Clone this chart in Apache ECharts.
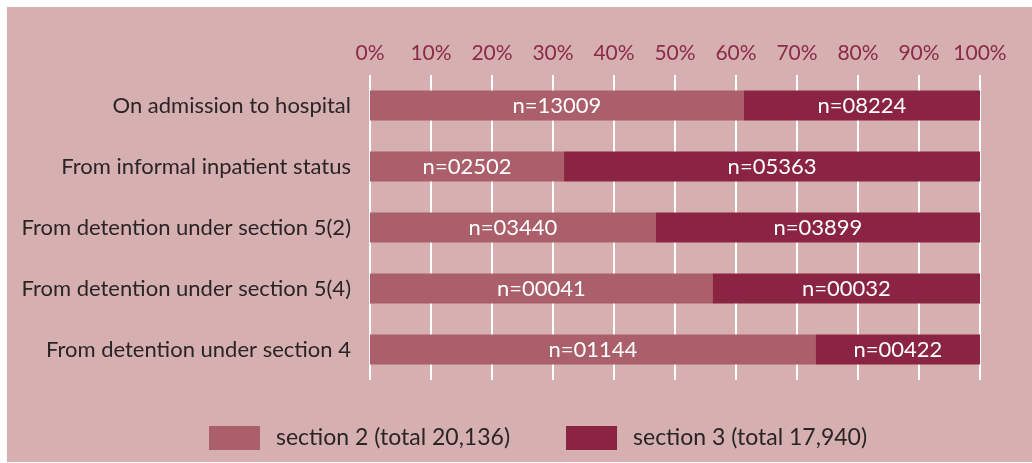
<!DOCTYPE html>
<html>
<head>
<meta charset="utf-8">
<script src="https://cdn.jsdelivr.net/npm/echarts@6/dist/echarts.min.js"></script>
<style>
  html, body { margin: 0; padding: 0; background: #ffffff; }
  #chart { position: absolute; left: 7px; top: 7px; width: 1025px; height: 455px; background: #d6afb1; }
</style>
</head>
<body>
<div id="chart"></div>
<script>
// Routes into detention, by section of the Act
const categories = [
  'On admission to hospital',
  'From informal inpatient status',
  'From detention under section 5(2)',
  'From detention under section 5(4)',
  'From detention under section 4'
];
const section2Counts = [13009, 2502, 3440, 41, 1144];
const section3Counts = [8224, 5363, 3899, 32, 422];
const seriesNames = ['section 2 (total 20,136)', 'section 3 (total 17,940)'];
const percentTicks = [0, 10, 20, 30, 40, 50, 60, 70, 80, 90, 100];

const FONT = 'Lato, "Open Sans", sans-serif';

// Share of each row's total, as a percentage
function share(counts, other) {
  return counts.map((v, i) => ({ value: 100 * v / (v + other[i]), count: v }));
}
const pad = n => 'n=' + String(n).padStart(5, '0');

const chart = echarts.init(document.getElementById('chart'));
chart.setOption({
  animation: false,
  textStyle: { fontFamily: FONT },
  grid: { left: 363, right: 52, top: 68, bottom: 82, containLabel: false },
  xAxis: {
    type: 'value',
    position: 'top',
    min: percentTicks[0],
    max: percentTicks[percentTicks.length - 1],
    interval: percentTicks[1] - percentTicks[0],
    axisLine: { show: false },
    axisTick: { show: false },
    axisLabel: { color: '#8b2a49', fontSize: 21, fontFamily: FONT, margin: 11, formatter: '{value}%' },
    splitLine: { show: true, lineStyle: { color: '#ffffff', width: 2 } }
  },
  yAxis: {
    type: 'category',
    inverse: true,
    data: categories,
    axisLine: { show: false },
    axisTick: { show: false },
    axisLabel: { color: '#2b2426', fontSize: 22, fontFamily: FONT, margin: 19 }
  },
  legend: {
    bottom: 12,
    left: 202,
    padding: 0,
    itemWidth: 51,
    itemHeight: 24,
    itemGap: 56,
    icon: 'rect',
    textStyle: { color: '#2b2426', fontSize: 23, fontFamily: FONT, padding: [0, 0, 0, 11] },
    data: seriesNames
  },
  series: [
    {
      name: seriesNames[0],
      type: 'bar',
      stack: 'total',
      barWidth: 30,
      itemStyle: { color: '#ab5f6a' },
      label: { show: true, position: 'inside', color: '#ffffff', fontSize: 22, fontFamily: FONT,
               formatter: p => pad(p.data.count) },
      data: share(section2Counts, section3Counts)
    },
    {
      name: seriesNames[1],
      type: 'bar',
      stack: 'total',
      barWidth: 30,
      itemStyle: { color: '#8a2442' },
      label: { show: true, position: 'inside', color: '#ffffff', fontSize: 22, fontFamily: FONT,
               formatter: p => pad(p.data.count) },
      data: share(section3Counts, section2Counts)
    }
  ]
});
</script>
</body>
</html>
